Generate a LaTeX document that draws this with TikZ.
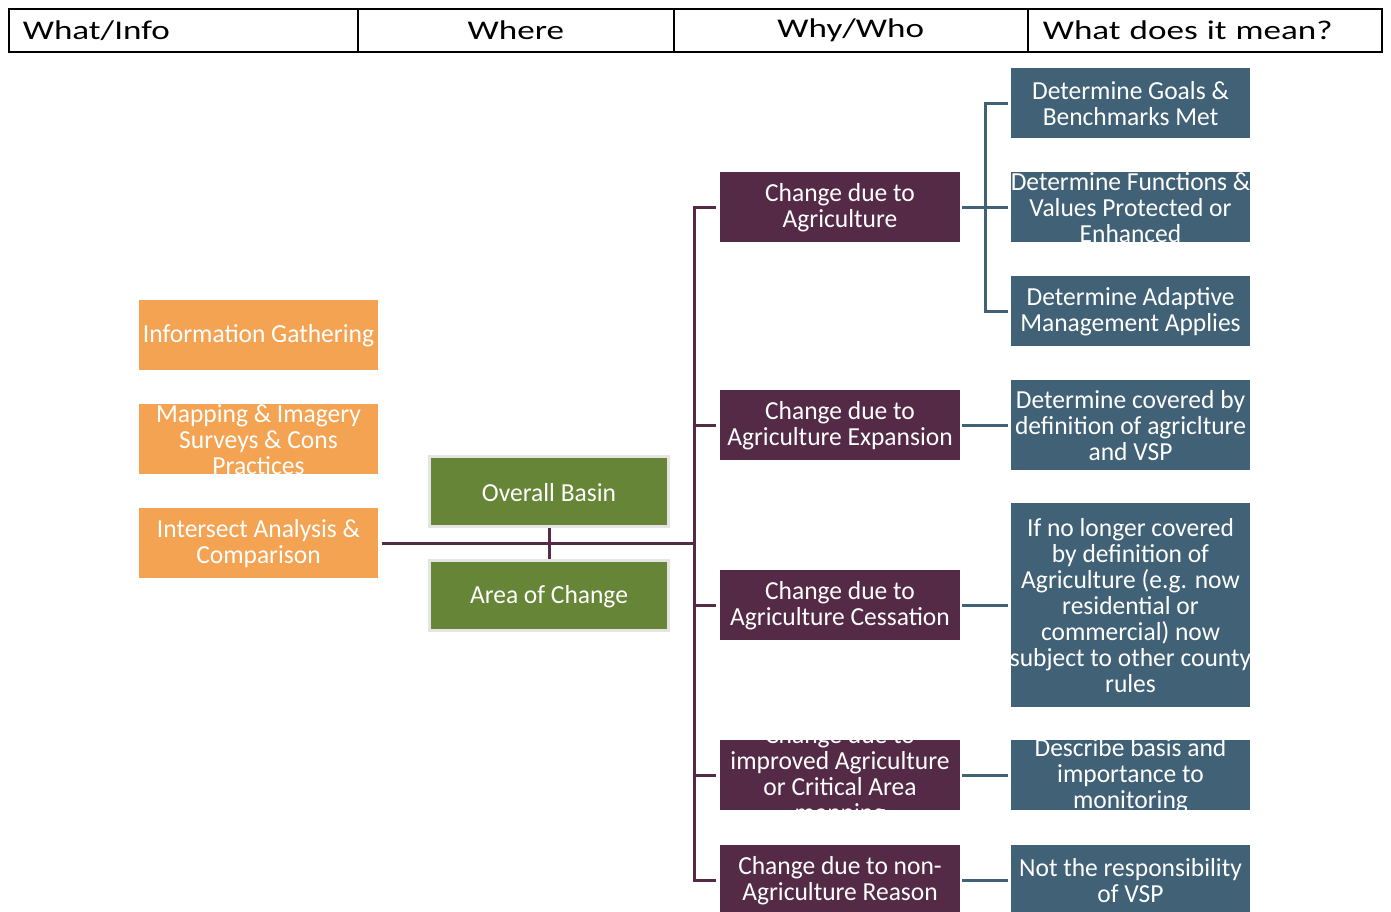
\documentclass[tikz,border=0pt]{standalone}
\usepackage{fontspec}
\setmainfont[FakeStretch=0.98]{Carlito}
\newfontfamily\hdrfont[FakeStretch=1.3]{Carlito}
\definecolor{orng}{HTML}{F4A352}
\definecolor{grn}{HTML}{668536}
\definecolor{purp}{HTML}{552A47}
\definecolor{blu}{HTML}{406176}
\definecolor{gborder}{HTML}{E4E4E4}
\tikzset{
  hdrcell/.style={draw=black, line width=1.6, minimum height=43, inner ysep=0, anchor=north west, font=\hdrfont\fontsize{27}{27}\selectfont},
  lbl/.style={text=white, align=center, inner sep=0, yshift=-1pt, font=\fontsize{26}{26}\selectfont},
  boxbase/.style={minimum width=239, minimum height=70, inner sep=0},
  obox/.style={boxbase, fill=orng},
  gbox/.style={boxbase, fill=grn, draw=gborder, line width=3},
  pbox/.style={boxbase, fill=purp, minimum width=240},
  bbox/.style={boxbase, fill=blu},
  pline/.style={draw=purp, line width=3},
  bline/.style={draw=blu, line width=3},
}
\begin{document}
\begin{tikzpicture}[x=1pt,y=-1pt]
\useasboundingbox (0,0) rectangle (1391,911);
\clip (0,0) rectangle (1391,911);
% header
\node[hdrcell, minimum width=349, text width=321, inner xsep=14, align=left] (h1) at (8,8) {What/Info};
\node[hdrcell, minimum width=316, inner xsep=0] (h2) at (357,8) {Where};
\node[hdrcell, minimum width=354, inner xsep=0] (h3) at (673,8) {Why/Who};
\node[hdrcell, minimum width=354, text width=324, inner xsep=15, align=left] (h4) at (1027,8) {What does it mean?};
% orange
\node[obox, label={[lbl]center:{Information Gathering}}] (ig) at (258.5,335) {};
\node[obox, label={[lbl]center:{Mapping \& Imagery\\Surveys \& Cons\\Practices}}] (mi) at (258.5,439) {};
\node[obox, label={[lbl]center:{Intersect Analysis \&\\Comparison}}] (ia) at (258.5,543) {};
% green
\node[gbox, label={[lbl]center:{Overall Basin}}] (ob) at (549,491.5) {};
\node[gbox, label={[lbl]center:{Area of Change}}] (ac) at (549,595.5) {};
% purple
\node[pbox, label={[lbl]center:{Change due to\\Agriculture}}] (p1) at (840,207) {};
\node[pbox, label={[lbl]center:{Change due to\\Agriculture Expansion}}] (p2) at (840,425) {};
\node[pbox, label={[lbl]center:{Change due to\\Agriculture Cessation}}] (p3) at (840,605) {};
\node[pbox, label={[lbl]center:{Change due to\\improved Agriculture\\or Critical Area\\mapping}}] (p4) at (840,775) {};
\node[pbox, label={[lbl]center:{Change due to non-\\Agriculture Reason}}] (p5) at (840,880) {};
% blue
\node[bbox, label={[lbl]center:{Determine Goals \&\\Benchmarks Met}}] (b1) at (1130.5,103) {};
\node[bbox, label={[lbl]center:{Determine Functions \&\\Values Protected or\\Enhanced}}] (b2) at (1130.5,207) {};
\node[bbox, label={[lbl]center:{Determine Adaptive\\Management Applies}}] (b3) at (1130.5,311) {};
\node[bbox, minimum height=90, label={[lbl]center:{Determine covered by\\definition of agriclture\\and VSP}}] (b4) at (1130.5,425) {};
\node[bbox, minimum height=204, label={[lbl]center:{If no longer covered\\by definition of\\Agriculture (e.g. now\\residential or\\commercial) now\\subject to other county\\rules}}] (b5) at (1130.5,605) {};
\node[bbox, label={[lbl]center:{Describe basis and\\importance to\\monitoring}}] (b6) at (1130.5,775) {};
\node[bbox, label={[lbl]center:{Not the responsibility\\of VSP}}] (b7) at (1130.5,880) {};
% purple connectors
\coordinate (tk) at (694,543);
\draw[pline] ([xshift=4]ia.east) -- (tk);
\draw[pline] (ob.south) -- (ac.north);
\foreach \p in {p1,p2,p3,p4,p5}
  \draw[pline] (tk) |- ([xshift=-4]\p.west);
% blue connectors
\coordinate (bk) at (985,207);
\draw[bline] ([xshift=2]p1.east) -- (bk);
\foreach \b in {b1,b2,b3}
  \draw[bline] (bk) |- ([xshift=-3]\b.west);
\draw[bline] ([xshift=2]p2.east) -- ([xshift=-3]b4.west);
\draw[bline] ([xshift=2]p3.east) -- ([xshift=-3]b5.west);
\draw[bline] ([xshift=2]p4.east) -- ([xshift=-3]b6.west);
\draw[bline] ([xshift=2]p5.east) -- ([xshift=-3]b7.west);
\end{tikzpicture}
\end{document}
